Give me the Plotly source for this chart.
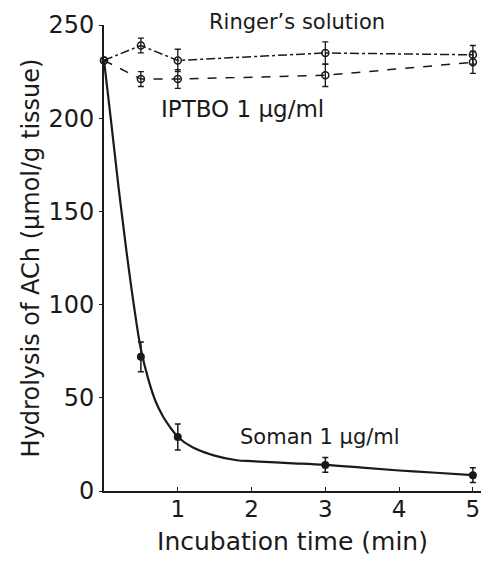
import plotly.graph_objects as go

# Data
t = [0, 0.5, 1, 3, 5]
ringer = [231, 239, 231, 235, 234]
ringer_err = [0, 4, 6, 6, 5]
iptbo = [231, 221, 221, 223, 230]
iptbo_err = [0, 4, 5, 6, 6]
soman_t = [0.5, 1, 3, 5]
soman = [72, 29, 14, 8.5]
soman_err = [8, 7, 4, 4]
# hand-drawn smooth curve through the Soman data
curve_t = [0, 0.1, 0.2, 0.3, 0.4, 0.5, 0.6, 0.7, 0.8, 0.9, 1.0, 1.2, 1.5, 1.8, 2.0, 2.5, 3.0, 3.5, 4.0, 4.5, 5.0]
curve_y = [231, 197, 162, 130, 101, 76, 60, 48, 40, 34, 29, 23.5, 19, 16.5, 16, 15, 14, 12.5, 11, 9.8, 8.5]

ink = "#1a1a1a"
font = "DejaVu Sans"

fig = go.Figure()
fig.add_trace(go.Scatter(
    x=t, y=ringer, mode="lines+markers", cliponaxis=False,
    line=dict(color=ink, width=1.5, dash="dashdot"),
    marker=dict(symbol="circle-open", size=7, color=ink, line=dict(width=1.5)),
    error_y=dict(type="data", array=ringer_err, color=ink, thickness=1.3, width=3),
))
fig.add_trace(go.Scatter(
    x=t, y=iptbo, mode="lines+markers", cliponaxis=False,
    line=dict(color=ink, width=1.5, dash="dash"),
    marker=dict(symbol="circle-open", size=7, color=ink, line=dict(width=1.5)),
    error_y=dict(type="data", array=iptbo_err, color=ink, thickness=1.3, width=3),
))
fig.add_trace(go.Scatter(
    x=curve_t, y=curve_y, mode="lines", cliponaxis=False,
    line=dict(color=ink, width=2.2, shape="spline"),
))
fig.add_trace(go.Scatter(
    x=soman_t, y=soman, mode="markers", cliponaxis=False,
    marker=dict(symbol="circle", size=8, color=ink),
    error_y=dict(type="data", array=soman_err, color=ink, thickness=1.5, width=3),
))

fig.add_annotation(x=2.62, xref="x", y=1.034, yref="paper", text="Ringer\u2019s solution", showarrow=False,
                   font=dict(size=21, color=ink, family=font), xanchor="center", yanchor="top",
                   borderpad=0)
fig.add_annotation(x=0.74, y=205, text="IPTBO 1\u00a0µg/ml", showarrow=False,
                   font=dict(size=23, color=ink, family=font), xanchor="left", yanchor="middle")
fig.add_annotation(x=1.82, y=29, text="Soman 1\u00a0µg/ml", showarrow=False,
                   font=dict(size=21, color=ink, family=font), xanchor="left", yanchor="middle")

# page has an 8px body margin, so the figure is sized/offset to compensate
fig.update_layout(
    width=481, height=554,
    margin=dict(l=96, r=8, t=17, b=71, autoexpand=False),
    paper_bgcolor="white", plot_bgcolor="white",
    showlegend=False,
    font=dict(family=font, color=ink, size=20),
)
fig.update_xaxes(
    range=[0, 5.11], tickvals=[1, 2, 3, 4, 5], ticktext=["1", "2", "3", "4", "5"],
    showgrid=False, zeroline=False, showline=True, linecolor=ink, linewidth=2,
    ticks="inside", ticklen=4, tickcolor=ink, automargin=False,
    ticklabelstandoff=-4,
    tickfont=dict(size=23, family=font),
    title=dict(text="Incubation time (min)", font=dict(size=25, family=font), standoff=12),
)
fig.update_yaxes(
    range=[0, 250], tickvals=[0, 50, 100, 150, 200, 250],
    showgrid=False, zeroline=False, showline=True, linecolor=ink, linewidth=2,
    ticks="outside", ticklen=3, tickcolor=ink, automargin=False,
    tickfont=dict(size=24, family=font),
    title=dict(text="Hydrolysis of ACh (µmol/g tissue)", font=dict(size=24, family=font), standoff=2),
)

fig.write_html("out.html")
